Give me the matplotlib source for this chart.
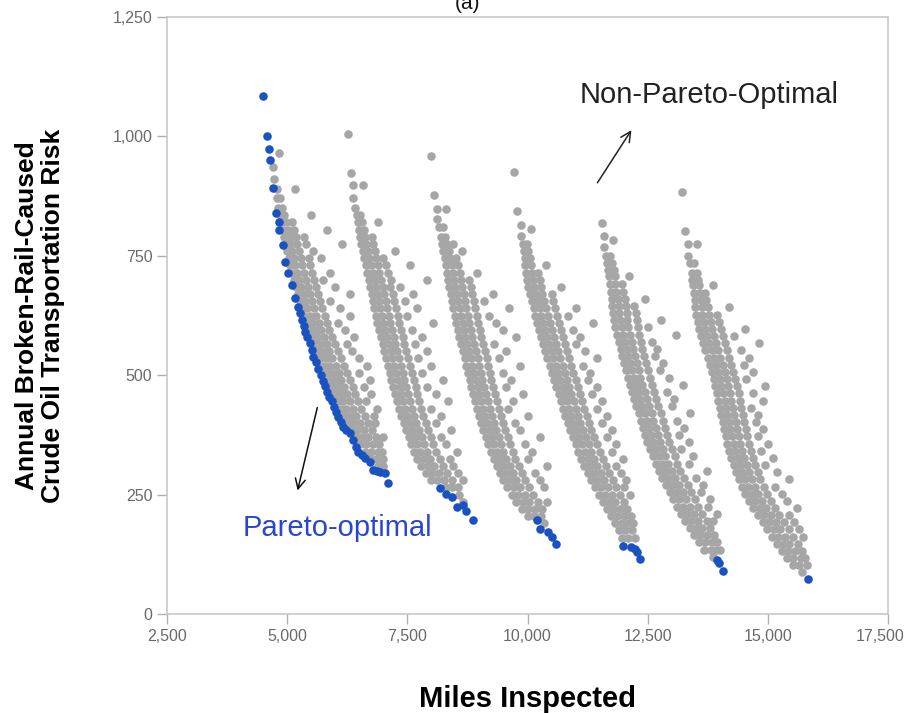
import matplotlib
matplotlib.use("Agg")
import matplotlib.pyplot as plt
import matplotlib.transforms as mtransforms

# ---------------- data ----------------
xticks = [2500, 5000, 7500, 10000, 12500, 15000, 17500]
xtick_labels = ["2,500", "5,000", "7,500", "10,000", "12,500", "15,000", "17,500"]
yticks = [0, 250, 500, 750, 1000, 1250]
ytick_labels = ["0", "250", "500", "750", "1,000", "1,250"]

# Pareto-optimal solutions (blue)
pareto_x = [4500, 4574, 4628, 4642, 4711, 4761, 4823, 4837, 4906, 4961, 5024, 5093, 5169, 5231,
            5270, 5302, 5340, 5370, 5420, 5474, 5510, 5543, 5600, 5647, 5700, 5740, 5780, 5822,
            5870, 5926, 5970, 6010, 6063, 6110, 6167, 6230, 6306, 6375, 6430, 6479, 6550, 6618,
            6722, 6791, 6860, 6930, 7034, 7103,
            8180, 8300, 8420, 8526, 8650, 8730, 8870,
            10190, 10258, 10420, 10510, 10600,
            11991, 12150, 12235, 12283, 12339,
            13933, 13990, 14071,
            15826]
pareto_y = [1085, 1001, 974, 950, 891, 840, 821, 804, 773, 736, 713, 689, 661, 643,
            630, 616, 603, 591, 580, 567, 553, 539, 527, 514, 500, 488, 477, 465,
            455, 446, 434, 422, 413, 402, 392, 386, 380, 364, 350, 340, 333, 327,
            319, 302, 300, 297, 295, 274,
            263, 252, 246, 225, 228, 216, 197,
            197, 177, 172, 162, 147,
            142, 140, 136, 130, 115,
            113, 106, 91,
            73]

# Non-Pareto-optimal solutions (grey), band by band: (risk, [miles ...])
band1_rows = [
    (965, [4836]), (935, [4700]), (910, [4730]), (890, [4780, 5160]), (870, [4790, 4860]),
    (850, [4810, 4900]), (835, [4850, 4940, 5500]), (820, [4880, 4980, 5100]),
    (805, [4910, 5010, 5150, 5822]), (790, [4940, 5050, 5180, 5350]),
    (775, [4970, 5080, 5210, 5400, 6134]), (760, [5000, 5110, 5250, 5543]),
    (745, [5030, 5140, 5280, 5450, 5700]), (730, [5060, 5170, 5310, 5480]),
    (715, [5100, 5210, 5350, 5520, 5890]), (700, [5140, 5250, 5390, 5560, 5750]),
    (685, [5180, 5290, 5430, 5600, 6000]), (670, [5230, 5340, 5480, 5650, 6306]),
    (655, [5270, 5380, 5520, 5690, 5900]), (640, [5310, 5420, 5560, 5730, 6100]),
    (625, [5350, 5470, 5610, 5780, 6306]), (610, [5400, 5520, 5660, 5830, 6050]),
    (595, [5450, 5570, 5710, 5880, 6200]), (580, [5500, 5620, 5760, 5930, 6400]),
    (565, [5560, 5680, 5820, 5990, 6250]), (550, [5620, 5740, 5880, 6050, 6350]),
    (535, [5680, 5800, 5940, 6110, 6500]), (520, [5750, 5870, 6010, 6180, 6654]),
    (505, [5810, 5930, 6070, 6240, 6500]), (490, [5870, 5990, 6130, 6300, 6722]),
    (475, [5930, 6050, 6190, 6360, 6600]), (460, [5990, 6110, 6250, 6420, 6750]),
    (445, [6050, 6170, 6310, 6480, 6650]), (430, [6110, 6230, 6370, 6540, 6862]),
    (415, [6180, 6300, 6440, 6610, 6800]), (400, [6260, 6380, 6520, 6690, 6830]),
    (385, [6340, 6460, 6600, 6760]), (370, [6430, 6550, 6690, 6850, 7000]),
    (355, [6520, 6640, 6780, 6920]), (340, [6620, 6740, 6880, 6966]),
    (325, [6740, 6860, 7000]), (310, [6900, 7000]),
]
band2_rows = [
    (1006, [6271]), (924, [6321]), (898, [6375, 6583]), (872, [6375]), (850, [6420]),
    (835, [6446, 6520]), (820, [6470, 6560, 6900]), (805, [6495, 6600]),
    (790, [6515, 6620, 6760]), (775, [6540, 6650, 6790]), (760, [6570, 6680, 6820, 7242]),
    (745, [6600, 6710, 6850, 7000]), (730, [6630, 6750, 6880, 7050, 7554]),
    (715, [6665, 6780, 6920, 7100]), (700, [6695, 6820, 6960, 7150, 7900]),
    (685, [6725, 6850, 6990, 7140, 7350]), (670, [6760, 6880, 7020, 7200, 7625]),
    (655, [6790, 6910, 7050, 7230, 7450]), (640, [6815, 6940, 7080, 7260, 7700]),
    (625, [6845, 6970, 7110, 7300, 7500]), (610, [6875, 7000, 7140, 7330, 8040]),
    (595, [6910, 7040, 7180, 7370, 7600]), (580, [6950, 7080, 7220, 7400, 7800]),
    (565, [6985, 7110, 7250, 7440, 7650]), (550, [7025, 7150, 7290, 7480, 7900]),
    (535, [7060, 7190, 7330, 7520, 7720]), (520, [7100, 7230, 7370, 7560, 8000]),
    (505, [7135, 7260, 7400, 7590, 7800]), (490, [7170, 7300, 7440, 7630, 8250]),
    (475, [7210, 7340, 7480, 7670, 7900]), (460, [7245, 7370, 7510, 7700, 8100]),
    (445, [7285, 7410, 7550, 7740, 8350]), (430, [7330, 7460, 7600, 7790, 8000]),
    (415, [7375, 7500, 7640, 7830, 8200]), (400, [7425, 7550, 7690, 7880, 8100]),
    (385, [7475, 7600, 7740, 7930, 8400]), (370, [7530, 7660, 7800, 7990, 8200]),
    (355, [7580, 7710, 7850, 8040, 8300]), (340, [7640, 7770, 7910, 8100, 8526]),
    (325, [7710, 7840, 7980, 8170, 8380]), (310, [7790, 7920, 8060, 8240, 8450]),
    (295, [7880, 8010, 8150, 8320, 8550]), (280, [7990, 8120, 8260, 8420, 8666]),
    (265, [8300, 8420, 8550]), (250, [8580]), (235, [8650]),
]
band3_rows = [
    (959, [7991]), (877, [8060]), (847, [8122, 8314]), (827, [8122]), (810, [8150, 8250]),
    (790, [8190, 8290]), (775, [8215, 8330, 8450]), (760, [8245, 8370, 8630]),
    (745, [8275, 8390, 8520]), (730, [8300, 8420, 8560]), (715, [8325, 8450, 8600, 8958]),
    (700, [8350, 8480, 8620, 8790]), (685, [8375, 8500, 8640, 8820]),
    (670, [8405, 8530, 8670, 8850, 9290]), (655, [8430, 8560, 8700, 8880, 9100]),
    (640, [8460, 8590, 8730, 8910, 9620]), (625, [8490, 8620, 8760, 8940, 9200]),
    (610, [8520, 8650, 8790, 8980, 9350]), (595, [8550, 8680, 8820, 9010, 9500]),
    (580, [8585, 8710, 8850, 9040, 9770]), (565, [8620, 8750, 8890, 9080, 9300]),
    (550, [8655, 8780, 8920, 9110, 9550]), (535, [8690, 8820, 8960, 9150, 9400]),
    (520, [8725, 8850, 8990, 9180, 9842]), (505, [8760, 8890, 9030, 9220, 9500]),
    (490, [8795, 8920, 9060, 9250, 9650]), (475, [8830, 8960, 9100, 9290, 9550]),
    (460, [8865, 8990, 9130, 9320, 9900]), (445, [8905, 9030, 9170, 9360, 9700]),
    (430, [8945, 9070, 9210, 9400, 9600]), (415, [8990, 9120, 9260, 9450, 10000]),
    (400, [9035, 9160, 9300, 9490, 9750]), (385, [9080, 9210, 9350, 9540, 9850]),
    (370, [9130, 9260, 9400, 9590, 10258]), (355, [9180, 9310, 9450, 9640, 9950]),
    (340, [9235, 9360, 9500, 9690, 10100]), (325, [9295, 9420, 9560, 9750, 10000]),
    (310, [9360, 9490, 9630, 9820, 10398]), (295, [9430, 9560, 9700, 9880, 10150]),
    (280, [9500, 9630, 9770, 9950, 10250]), (265, [9580, 9710, 9850, 10030, 10350]),
    (250, [9670, 9800, 9940, 10120]), (235, [9770, 9900, 10040, 10220, 10398]),
    (220, [9880, 10010, 10150, 10300]), (205, [10000, 10130, 10280]), (190, [10350]),
]
band4_rows = [
    (926, [9724]), (844, [9791]), (815, [9863]), (806, [10066]), (792, [9863]),
    (775, [9900, 9990]), (760, [9920, 10020]), (745, [9940, 10050]),
    (730, [9955, 10070, 10383]), (715, [9970, 10100, 10220]), (700, [9990, 10120, 10250]),
    (685, [10010, 10140, 10280, 10706]), (670, [10050, 10170, 10310, 10500]),
    (655, [10086, 10210, 10350, 10530]), (640, [10125, 10250, 10390, 10570, 11018]),
    (625, [10165, 10290, 10430, 10610, 10850]), (610, [10205, 10330, 10470, 10650, 11355]),
    (595, [10240, 10370, 10510, 10690, 10950]), (580, [10280, 10410, 10550, 10730, 11100]),
    (565, [10320, 10450, 10590, 10770, 11000]), (550, [10370, 10500, 10640, 10820, 11200]),
    (535, [10410, 10540, 10680, 10860, 11444]), (520, [10460, 10590, 10730, 10910, 11150]),
    (505, [10500, 10630, 10770, 10950, 11300]), (490, [10550, 10680, 10820, 11000, 11250]),
    (475, [10600, 10730, 10870, 11050, 11450]), (460, [10645, 10770, 10910, 11090, 11350]),
    (445, [10690, 10820, 10960, 11140, 11550]), (430, [10735, 10860, 11000, 11180, 11450]),
    (415, [10785, 10910, 11050, 11230, 11650]), (400, [10835, 10960, 11100, 11280, 11550]),
    (385, [10885, 11010, 11150, 11330, 11750]), (370, [10940, 11070, 11210, 11390, 11650]),
    (355, [11000, 11130, 11270, 11450, 11850]), (340, [11060, 11190, 11330, 11510, 11750]),
    (325, [11120, 11250, 11390, 11570, 11991]), (310, [11180, 11310, 11450, 11630, 11850]),
    (295, [11250, 11380, 11520, 11700, 11950]), (280, [11320, 11450, 11590, 11770, 12050]),
    (265, [11400, 11530, 11670, 11850, 12000]), (250, [11480, 11610, 11750, 11930, 12131]),
    (235, [11560, 11690, 11830, 12000]), (220, [11650, 11780, 11920, 12080]),
    (205, [11740, 11870, 12010, 12150]), (190, [11830, 11960, 12100, 12200]),
    (175, [11900, 12030, 12170]), (160, [11960, 12100, 12240]),
]
band5_rows = [
    (819, [11541]), (792, [11590]), (783, [11784]), (768, [11590]), (750, [11630, 11720]),
    (734, [11659, 11760]), (720, [11670, 11790]), (708, [11690, 11818, 12116]),
    (690, [11710, 11830, 11960]), (675, [11730, 11850, 11990]),
    (660, [11750, 11880, 12020, 12442]), (645, [11765, 11900, 12040, 12220]),
    (630, [11780, 11910, 12060, 12250]), (615, [11800, 11930, 12080, 12270, 12775]),
    (600, [11830, 11960, 12100, 12290, 12500]), (585, [11865, 11990, 12130, 12320, 13098]),
    (570, [11900, 12030, 12170, 12360, 12600]), (555, [11935, 12060, 12200, 12390, 12700]),
    (540, [11970, 12100, 12240, 12430, 12650]), (525, [12005, 12130, 12270, 12460, 12823]),
    (510, [12045, 12170, 12310, 12500, 12750]), (495, [12085, 12210, 12350, 12540, 12950]),
    (480, [12125, 12250, 12390, 12580, 13239]), (465, [12170, 12300, 12440, 12630, 12900]),
    (450, [12215, 12340, 12480, 12670, 13050]), (435, [12265, 12390, 12530, 12720, 13000]),
    (420, [12310, 12440, 12580, 12770, 13378]), (405, [12355, 12480, 12620, 12810, 13100]),
    (390, [12400, 12530, 12670, 12860, 13250]), (375, [12445, 12570, 12710, 12900, 13150]),
    (360, [12490, 12620, 12760, 12950, 13350]), (345, [12545, 12670, 12810, 13000, 13200]),
    (330, [12605, 12730, 12870, 13060, 13450]), (315, [12665, 12790, 12930, 13120, 13350]),
    (300, [12730, 12860, 13000, 13180, 13725]), (285, [12800, 12930, 13070, 13250, 13500]),
    (270, [12880, 13010, 13150, 13330, 13650]), (255, [12960, 13090, 13230, 13410, 13600]),
    (240, [13030, 13160, 13300, 13480, 13800]), (225, [13100, 13230, 13370, 13550, 13750]),
    (210, [13190, 13320, 13460, 13640, 13933]), (195, [13280, 13410, 13550, 13730, 13850]),
    (180, [13370, 13500, 13640, 13800]), (165, [13460, 13590, 13730, 13880]),
    (150, [13560, 13690, 13830, 13950]), (135, [13680, 13810, 13930, 14000]), (120, [13850]),
]
band6_rows = [
    (884, [13206]), (802, [13274]), (774, [13343, 13530]), (750, [13343]),
    (735, [13370, 13470]), (714, [13412, 13520]), (700, [13430, 13550]),
    (689, [13447, 13560, 13863]), (672, [13465, 13580, 13700]), (657, [13480, 13600, 13720]),
    (642, [13490, 13620, 13750, 14190]), (627, [13515, 13640, 13780, 13950]),
    (612, [13540, 13670, 13810, 13990]), (597, [13570, 13700, 13840, 14020, 14522]),
    (582, [13610, 13740, 13880, 14060, 14300]), (567, [13650, 13780, 13920, 14100, 14814]),
    (552, [13700, 13830, 13970, 14150, 14450]), (537, [13745, 13870, 14010, 14190, 14600]),
    (522, [13790, 13920, 14060, 14240, 14500]), (507, [13830, 13960, 14100, 14280, 14700]),
    (492, [13870, 14000, 14140, 14320, 14550]), (477, [13905, 14030, 14170, 14350, 14950]),
    (462, [13940, 14070, 14210, 14390, 14700]), (447, [13970, 14100, 14240, 14420, 14900]),
    (432, [14000, 14130, 14270, 14450, 14650]), (417, [14035, 14160, 14300, 14480, 14800]),
    (402, [14065, 14190, 14330, 14510, 14750]), (387, [14095, 14220, 14360, 14540, 14900]),
    (372, [14125, 14250, 14390, 14570, 14800]), (357, [14160, 14290, 14430, 14610, 15000]),
    (342, [14195, 14320, 14460, 14640, 14850]), (327, [14240, 14370, 14510, 14690, 15100]),
    (312, [14290, 14420, 14560, 14740, 14950]), (297, [14340, 14470, 14610, 14790, 15200]),
    (282, [14390, 14520, 14660, 14840, 15450]), (267, [14460, 14590, 14730, 14910, 15150]),
    (252, [14530, 14660, 14800, 14980, 15300]), (237, [14610, 14740, 14880, 15060, 15400]),
    (222, [14700, 14830, 14970, 15150, 15598]), (207, [14790, 14920, 15060, 15240, 15450]),
    (192, [14890, 15020, 15160, 15340, 15550]), (177, [14990, 15120, 15260, 15440, 15650]),
    (162, [15080, 15210, 15350, 15530, 15736]), (147, [15180, 15310, 15450, 15620]),
    (132, [15290, 15420, 15560, 15700]), (117, [15400, 15530, 15680, 15780]),
    (102, [15520, 15650, 15805]), (87, [15700]),
]

# ---------------- build table ----------------
gray_x, gray_y = [], []
for rows in (band1_rows, band2_rows, band3_rows, band4_rows, band5_rows, band6_rows):
    for yv, xs in rows:
        for xv in xs:
            gray_x.append(xv)
            gray_y.append(yv)

# ---------------- figure ----------------
plt.rcParams['font.family'] = ['Liberation Sans', 'DejaVu Sans']
fig = plt.figure(figsize=(9.07, 7.13), dpi=100)
ax = fig.add_axes([0.1841, 0.1388, 0.7950, 0.8374])

ax.scatter(gray_x, gray_y, s=38, color='#a6a6a6', linewidths=0, zorder=2)
ax.scatter(pareto_x, pareto_y, s=38, color='#1b52c2', linewidths=0, zorder=3)

ax.set_xlim(2500, 17500)
ax.set_ylim(0, 1250)
ax.set_xticks(xticks)
ax.set_xticklabels(xtick_labels)
ax.set_yticks(yticks)
ax.set_yticklabels(ytick_labels)
ax.tick_params(axis='both', colors='#b0b0b0', labelcolor='#6a6a6a', labelsize=11.5,
               length=7, width=1, direction='out')
for sp in ax.spines.values():
    sp.set_color('#c8c8c8')
    sp.set_linewidth(1.2)

# keep the last x tick label inside the canvas
last_lbl = ax.get_xticklabels()[-1]
last_lbl.set_transform(last_lbl.get_transform() +
                       mtransforms.ScaledTranslation(-8 / 100, 0, fig.dpi_scale_trans))

ax.set_xlabel("Miles Inspected", fontsize=21, fontweight='bold', labelpad=30)
ax.set_ylabel("Annual Broken-Rail-Caused\nCrude Oil Transportation Risk",
              fontsize=19, fontweight='bold', labelpad=34, linespacing=1.12)

ax.text(13770, 1087, "Non-Pareto-Optimal", fontsize=21, color='#222222',
        ha='center', va='center')
ax.annotate("", xy=(12193, 1018), xytext=(11423, 898),
            arrowprops=dict(arrowstyle='->', color='#222222', lw=1.1, mutation_scale=18))
ax.text(6036, 180, "Pareto-optimal", fontsize=21, color='#2a46d0',
        ha='center', va='center')
ax.annotate("", xy=(5204, 253), xytext=(5641, 438),
            arrowprops=dict(arrowstyle='->', color='#111111', lw=1.1, mutation_scale=18))

fig.text(0.515, 0.995, "(a)", fontsize=15, ha='center', va='center', color='#111111')

fig.savefig("out.png", dpi=100)
